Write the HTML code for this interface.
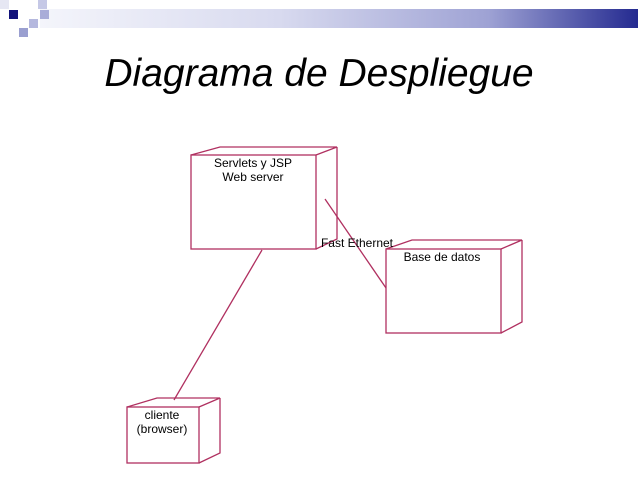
<!DOCTYPE html>
<html><head><style>
body{margin:0;width:638px;height:479px;background:#fff;position:relative;overflow:hidden;font-family:"Liberation Sans",sans-serif}
.bar{position:absolute;left:40px;top:9px;width:598px;height:19px;background:linear-gradient(to right,#f4f5fb,#d8daef 40%,#9ea2d4 75%,#242a90)}
.sq{position:absolute}
h1{position:absolute;left:0;width:638px;top:52px;margin:0;text-align:center;font-weight:normal;font-style:italic;font-size:39px;color:#000}
</style></head><body>
<div class="bar"></div>
<div class="sq" style="left:0;top:0;width:9px;height:9px;background:#e6e7f3"></div>
<div class="sq" style="left:9px;top:10px;width:9px;height:9px;background:#12137a"></div>
<div class="sq" style="left:19px;top:28px;width:9px;height:9px;background:#9a9fd0"></div>
<div class="sq" style="left:38px;top:0;width:9px;height:9px;background:#c5c8e6"></div>
<div class="sq" style="left:29px;top:19px;width:9px;height:9px;background:#b5b8de"></div>
<div class="sq" style="left:40px;top:10px;width:9px;height:9px;background:#a9acd8"></div>
<h1>Diagrama de Despliegue</h1>
<svg width="638" height="479" style="position:absolute;left:0;top:0" fill="none" stroke="#b03060" stroke-width="1.3">
<rect x="191" y="155" width="125" height="94"/>
<polyline points="191,155 220,147 337,147 316,155"/>
<polyline points="337,147 337,239 316,249"/>
<rect x="386" y="249" width="115" height="84"/>
<polyline points="386,249 412,240 522,240 501,249"/>
<polyline points="522,240 522,322 501,333"/>
<rect x="127" y="407" width="72" height="56"/>
<polyline points="127,407 157,398 220,398 199,407"/>
<polyline points="220,398 220,453 199,463"/>
<line x1="262" y1="250" x2="174" y2="400"/>
<line x1="325" y1="199" x2="386" y2="288"/>
<g fill="#000" stroke="none" font-family="Liberation Sans, sans-serif" font-size="12" text-anchor="middle">
<text x="253" y="167">Servlets y JSP</text>
<text x="253" y="181">Web server</text>
<text x="442" y="261">Base de datos</text>
<text x="162" y="419">cliente</text>
<text x="162" y="433">(browser)</text>
<text x="357" y="247">Fast Ethernet</text>
</g>
</svg>
</body></html>
